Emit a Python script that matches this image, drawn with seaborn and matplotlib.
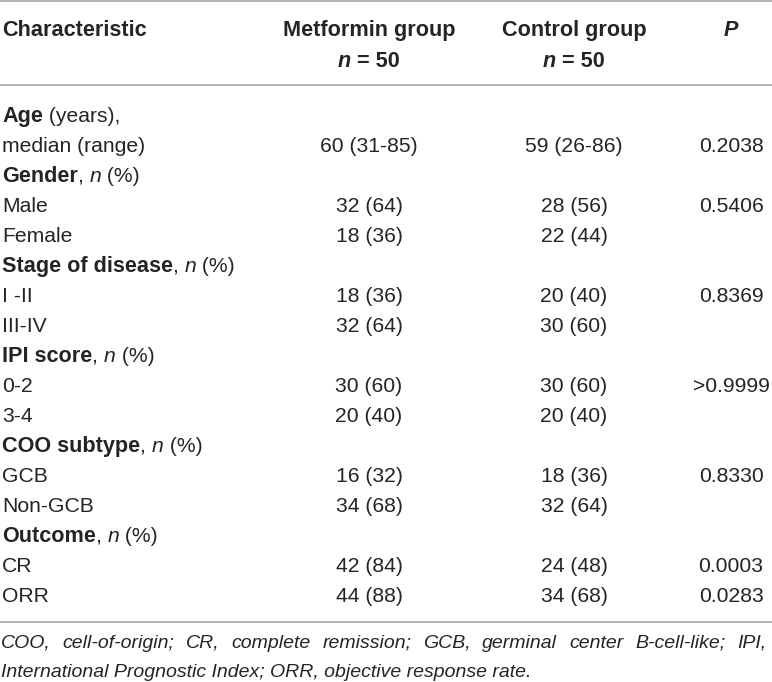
import matplotlib
matplotlib.use("Agg")
import matplotlib.pyplot as plt
import seaborn as sns

sns.set_theme(style="white")
plt.rcParams['font.family'] = ['Liberation Sans', 'DejaVu Sans']

# ---- data ----
header_cols = ["Characteristic", "Metformin group", "Control group", "P"]
header_n = ["", "n = 50", "n = 50", ""]

# row labels as rich-text segments: (text, weight, style)
row_labels = [
    [("Age", "bold", "normal"), (" (years),", "normal", "normal")],
    [("median (range)", "normal", "normal")],
    [("Gender", "bold", "normal"), (", ", "normal", "normal"), ("n", "normal", "italic"), (" (%)", "normal", "normal")],
    [("Male", "normal", "normal")],
    [("Female", "normal", "normal")],
    [("Stage of disease", "bold", "normal"), (", ", "normal", "normal"), ("n", "normal", "italic"), (" (%)", "normal", "normal")],
    [("I -II", "normal", "normal")],
    [("III-IV", "normal", "normal")],
    [("IPI score", "bold", "normal"), (", ", "normal", "normal"), ("n", "normal", "italic"), (" (%)", "normal", "normal")],
    [("0-2", "normal", "normal")],
    [("3-4", "normal", "normal")],
    [("COO subtype", "bold", "normal"), (", ", "normal", "normal"), ("n", "normal", "italic"), (" (%)", "normal", "normal")],
    [("GCB", "normal", "normal")],
    [("Non-GCB", "normal", "normal")],
    [("Outcome", "bold", "normal"), (", ", "normal", "normal"), ("n", "normal", "italic"), (" (%)", "normal", "normal")],
    [("CR", "normal", "normal")],
    [("ORR", "normal", "normal")],
]
metformin = ["", "60 (31-85)", "", "32 (64)", "18 (36)", "", "18 (36)", "32 (64)", "",
             "30 (60)", "20 (40)", "", "16 (32)", "34 (68)", "", "42 (84)", "44 (88)"]
control = ["", "59 (26-86)", "", "28 (56)", "22 (44)", "", "20 (40)", "30 (60)", "",
           "30 (60)", "20 (40)", "", "18 (36)", "32 (64)", "", "24 (48)", "34 (68)"]
pvals = ["", "0.2038", "", "0.5406", "", "", "0.8369", "", "",
         ">0.9999", "", "", "0.8330", "", "", "0.0003", "0.0283"]

footnote_lines = [
    "COO, cell-of-origin; CR, complete remission; GCB, germinal center B-cell-like; IPI,",
    "International Prognostic Index; ORR, objective response rate.",
]

# ---- layout ----
W, H = 772, 682
fig = plt.figure(figsize=(W / 100, H / 100), dpi=100)
ax = fig.add_axes([0, 0, 1, 1])
ax.set_xlim(0, W)
ax.set_ylim(H, 0)
ax.axis("off")

TXT = "#262324"
RULE = "#a6a6a6"
FS = 15.2
FSB = 15.6
col_x = [2, 369, 574, 731]

renderer = fig.canvas.get_renderer()
inv = ax.transData.inverted()


def text_width(t):
    bb = t.get_window_extent(renderer=renderer)
    p0 = inv.transform((bb.x0, bb.y0))
    p1 = inv.transform((bb.x1, bb.y0))
    return p1[0] - p0[0]


def rich(x, y, segs):
    for s, w, st in segs:
        size = FSB if w == "bold" else FS
        t = ax.text(x, y, s, fontsize=size, fontweight=w, fontstyle=st,
                    color=TXT, ha="left", va="baseline")
        x += text_width(t)


# rules
ax.plot([0, W], [0.8, 0.8], color=RULE, lw=1.2, solid_capstyle="butt")
ax.plot([0, W], [85, 85], color=RULE, lw=1.2, solid_capstyle="butt")
ax.plot([0, W], [622, 622], color=RULE, lw=1.2, solid_capstyle="butt")

# header
hb1, hb2 = 36, 67
ax.text(col_x[0], hb1, header_cols[0], fontsize=FSB, fontweight="bold", color=TXT, ha="left", va="baseline")
for j in (1, 2):
    ax.text(col_x[j], hb1, header_cols[j], fontsize=FSB, fontweight="bold", color=TXT, ha="center", va="baseline")
ax.text(col_x[3], hb1, header_cols[3], fontsize=FSB, fontweight="bold", fontstyle="italic", color=TXT, ha="center", va="baseline")
for j in (1, 2):
    # "n = 50" with italic n
    t1 = ax.text(0, 0, "n", fontsize=FSB, fontweight="bold", fontstyle="italic")
    t2 = ax.text(0, 0, " = 50", fontsize=FSB, fontweight="bold")
    w1, w2 = text_width(t1), text_width(t2)
    t1.remove(); t2.remove()
    x0 = col_x[j] - (w1 + w2) / 2
    ax.text(x0, hb2, "n", fontsize=FSB, fontweight="bold", fontstyle="italic", color=TXT, ha="left", va="baseline")
    ax.text(x0 + w1, hb2, " = 50", fontsize=FSB, fontweight="bold", color=TXT, ha="left", va="baseline")

# body
base0, step = 121.7, 30
for i, segs in enumerate(row_labels):
    y = base0 + i * step
    rich(col_x[0], y, segs)
    for j, vals in ((1, metformin), (2, control), (3, pvals)):
        if vals[i]:
            ax.text(col_x[j], y, vals[i], fontsize=FS, color=TXT, ha="center", va="baseline")

# footnote (first line justified)
fb = [648, 677]
FFS = 14
words = footnote_lines[0].split(" ")
tmp = [ax.text(0, 0, w, fontsize=FFS, fontstyle="italic") for w in words]
ws = [text_width(t) for t in tmp]
for t in tmp:
    t.remove()
right = 766
gap = (right - 1 - sum(ws)) / (len(words) - 1)
x = 1
for w, wd in zip(words, ws):
    ax.text(x, fb[0], w, fontsize=FFS, fontstyle="italic", color=TXT, ha="left", va="baseline")
    x += wd + gap
ax.text(1, fb[1], footnote_lines[1], fontsize=FFS, fontstyle="italic", color=TXT, ha="left", va="baseline")

fig.savefig("out.png", dpi=100, facecolor="white")
